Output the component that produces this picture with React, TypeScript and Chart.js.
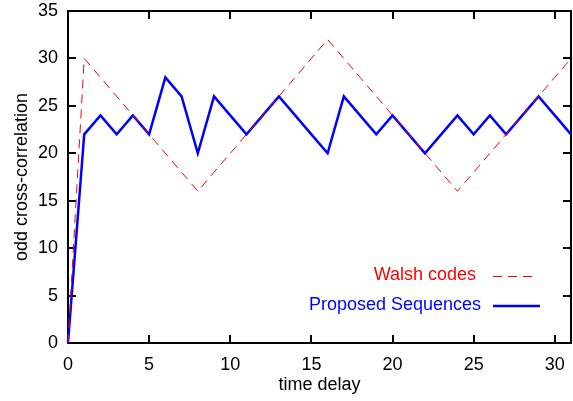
import React, { useEffect, useRef } from "react";
import { Chart, registerables } from "chart.js";

Chart.register(...registerables);

const timeDelay = [0, 1, 2, 3, 4, 5, 6, 7, 8, 9, 10, 11, 12, 13, 14, 15, 16, 17, 18, 19, 20, 21, 22, 23, 24, 25, 26, 27, 28, 29, 30, 31];
const walshCodes = [0, 30, 28, 26, 24, 22, 20, 18, 16, 18, 20, 22, 24, 26, 28, 30, 32, 30, 28, 26, 24, 22, 20, 18, 16, 18, 20, 22, 24, 26, 28, 30];
const proposedSequences = [0, 22, 24, 22, 24, 22, 28, 26, 20, 26, 24, 22, 24, 26, 24, 22, 20, 26, 24, 22, 24, 22, 20, 22, 24, 22, 24, 22, 24, 26, 24, 22];
const xTickValues = [0, 5, 10, 15, 20, 25, 30];
const yTickValues = [0, 5, 10, 15, 20, 25, 30, 35];
const seriesLabels = ["Walsh codes", "Proposed Sequences"];
const xTitle = "time delay";
const yTitle = "odd cross-correlation";

const FONT = "'Liberation Sans', Arial, sans-serif";
const FONT_SIZE = 18;

const framePlugin = {
  id: "gnuplotFrame",
  beforeDatasetsDraw(chart: any) {
    const { ctx, chartArea, scales } = chart;
    const { left, right, top, bottom } = chartArea;
    const xs = scales.x;
    const ys = scales.y;
    ctx.save();
    ctx.strokeStyle = "#000";
    ctx.lineWidth = 2;
    ctx.strokeRect(left, top, right - left, bottom - top);
    ctx.beginPath();
    const tl = 8;
    xs.ticks.forEach((t: any) => {
      const px = Math.round(xs.getPixelForValue(t.value));
      ctx.moveTo(px, bottom);
      ctx.lineTo(px, bottom - tl);
      ctx.moveTo(px, top);
      ctx.lineTo(px, top + tl);
    });
    ys.ticks.forEach((t: any) => {
      const py = Math.round(ys.getPixelForValue(t.value));
      ctx.moveTo(left, py);
      ctx.lineTo(left + tl, py);
      ctx.moveTo(right, py);
      ctx.lineTo(right - tl, py);
    });
    ctx.stroke();
    ctx.restore();
  },
  afterDatasetsDraw(chart: any) {
    const { ctx, chartArea } = chart;
    const { right, bottom } = chartArea;
    ctx.save();
    ctx.font = `${FONT_SIZE}px ${FONT}`;
    ctx.textAlign = "right";
    ctx.textBaseline = "middle";
    ctx.fillStyle = "#ff0000";
    ctx.fillText(seriesLabels[0], right - 95, bottom - 68);
    ctx.strokeStyle = "#ff0000";
    ctx.lineWidth = 1;
    ctx.setLineDash([9, 6]);
    ctx.beginPath();
    ctx.moveTo(right - 78, bottom - 66.5);
    ctx.lineTo(right - 33, bottom - 66.5);
    ctx.stroke();
    ctx.fillStyle = "#0000ff";
    ctx.fillText(seriesLabels[1], right - 90, bottom - 38);
    ctx.strokeStyle = "#0000ff";
    ctx.lineWidth = 2.5;
    ctx.setLineDash([]);
    ctx.beginPath();
    ctx.moveTo(right - 78, bottom - 37);
    ctx.lineTo(right - 31, bottom - 37);
    ctx.stroke();
    ctx.restore();
  },
};

export default function App() {
  const ref = useRef<HTMLCanvasElement | null>(null);

  useEffect(() => {
    if (!ref.current) return;
    const chart = new Chart(ref.current, {
      type: "line",
      data: {
        datasets: [
          {
            label: seriesLabels[0],
            data: timeDelay.map((x, i) => ({ x, y: walshCodes[i] })),
            borderColor: "#ff0000",
            borderWidth: 1,
            borderDash: [9, 6],
            pointRadius: 0,
            tension: 0,
            fill: false,
            clip: false as any,
          },
          {
            label: seriesLabels[1],
            data: timeDelay.map((x, i) => ({ x, y: proposedSequences[i] })),
            borderColor: "#0000ff",
            borderWidth: 2.5,
            pointRadius: 0,
            tension: 0,
            fill: false,
            clip: false as any,
          },
        ],
      },
      options: {
        responsive: false,
        animation: false,
        layout: { padding: { top: 11, right: 2, left: 0, bottom: 0 } },
        plugins: {
          legend: { display: false },
          tooltip: { enabled: false },
        },
        scales: {
          x: {
            type: "linear",
            min: 0,
            max: 31,
            grid: { display: false, drawTicks: false },
            border: { display: false },
            afterBuildTicks(scale: any) {
              scale.ticks = xTickValues.map((v) => ({ value: v }));
            },
            ticks: {
              color: "#000",
              padding: 11,
              maxRotation: 0,
              autoSkip: false,
              font: { family: FONT, size: FONT_SIZE },
            },
            title: {
              display: true,
              text: xTitle,
              color: "#000",
              padding: { top: 0, bottom: 5 },
              font: { family: FONT, size: FONT_SIZE },
            },
            afterFit(scale: any) {
              scale.height = 58;
              scale.paddingLeft = 0;
              scale.paddingRight = 0;
            },
          },
          y: {
            type: "linear",
            min: 0,
            max: 35,
            grid: { display: false, drawTicks: false },
            border: { display: false },
            afterBuildTicks(scale: any) {
              scale.ticks = yTickValues.map((v) => ({ value: v }));
            },
            ticks: {
              color: "#000",
              padding: 10,
              autoSkip: false,
              font: { family: FONT, size: FONT_SIZE },
            },
            title: {
              display: true,
              text: yTitle,
              color: "#000",
              padding: { top: 11, bottom: 0 },
              font: { family: FONT, size: FONT_SIZE },
            },
            afterFit(scale: any) {
              scale.width = 68;
              scale.paddingTop = 0;
              scale.paddingBottom = 0;
            },
          },
        },
      },
      plugins: [framePlugin],
    });
    return () => chart.destroy();
  }, []);

  return (
    <div style={{ position: "fixed", left: 0, top: 0, width: 573, height: 401, background: "#fff" }}>
      <canvas ref={ref} width={573} height={401} />
    </div>
  );
}
